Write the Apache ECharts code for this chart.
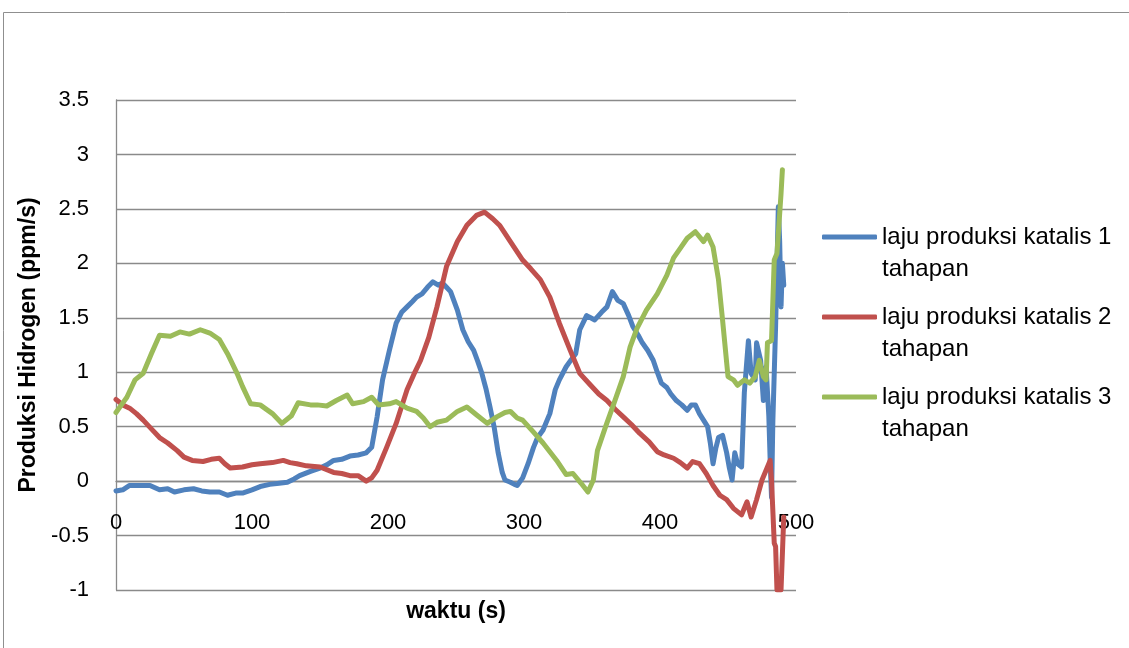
<!DOCTYPE html>
<html>
<head>
<meta charset="utf-8">
<script src="https://cdn.jsdelivr.net/npm/echarts@6/dist/echarts.min.js"></script>
<style>
html,body{margin:0;padding:0;background:#fff;}
#chart{width:1129px;height:648px;}
</style>
</head>
<body>
<div id="chart"></div>
<script>
// ---- data (time in s, production rate in ppm/s) ----
const seriesNames = [
  'laju produksi katalis 1 tahapan',
  'laju produksi katalis 2 tahapan',
  'laju produksi katalis 3 tahapan'
];
const s1Time = [0,5,10,18,25,32,38,43,50,57,63,69,76,82,88,93,100,106,113,120,126,131,135,143,150,155,160,166,172,178,184,188,192,196,201,206,210,214,218,221,225,229,233,237,240,243,246,251,255,259,263,266,269,272,275,278,281,284,286,290,293,295,299,303,307,310,314,319,323,326,331,335,338,341,346,349,352,357,361,365,369,373,377,380,384,387,391,395,398,401,405,408,412,416,420,423,426,429,432,435,437,439,441,443,446,449,451,453,455,457,460,462,465,467,470,471,474,476,478,480,481,482,483,485,487,488,489,490,491];
const s1Rate = [-0.09,-0.08,-0.04,-0.04,-0.04,-0.08,-0.07,-0.1,-0.08,-0.07,-0.09,-0.1,-0.1,-0.13,-0.11,-0.11,-0.08,-0.05,-0.03,-0.02,-0.01,0.02,0.05,0.09,0.12,0.15,0.19,0.2,0.23,0.24,0.26,0.31,0.59,0.93,1.2,1.45,1.55,1.6,1.65,1.69,1.72,1.78,1.83,1.8,1.82,1.78,1.74,1.57,1.39,1.28,1.2,1.1,0.99,0.85,0.68,0.5,0.26,0.08,0.01,-0.01,-0.03,-0.04,0.03,0.16,0.31,0.4,0.47,0.62,0.84,0.93,1.05,1.12,1.17,1.39,1.52,1.5,1.48,1.55,1.6,1.74,1.66,1.63,1.52,1.42,1.34,1.27,1.2,1.11,1.0,0.9,0.86,0.8,0.74,0.7,0.65,0.7,0.7,0.62,0.56,0.5,0.35,0.16,0.3,0.4,0.42,0.26,0.12,0.01,0.26,0.16,0.13,0.81,1.29,0.99,0.93,1.27,1.11,0.74,1.05,0.6,0.19,-0.15,0.56,1.42,2.52,2.2,1.6,2.0,1.8];

const s2Time = [0,5,10,15,20,26,32,38,45,50,56,64,70,76,80,84,93,100,106,115,123,128,133,140,150,160,166,172,178,184,188,192,199,206,214,219,224,230,236,243,251,258,265,271,277,282,290,299,305,312,319,326,334,341,349,355,361,367,373,379,385,392,398,403,410,415,420,424,429,434,439,444,449,454,460,462,464,467,471,475,477,480,481,482,484,485,486,489,491];
const s2Rate = [0.75,0.7,0.67,0.62,0.56,0.48,0.4,0.35,0.28,0.22,0.19,0.18,0.2,0.21,0.16,0.12,0.13,0.15,0.16,0.17,0.19,0.17,0.16,0.14,0.13,0.08,0.07,0.05,0.05,0.0,0.03,0.1,0.31,0.53,0.84,0.98,1.11,1.32,1.6,1.97,2.2,2.35,2.44,2.47,2.41,2.35,2.2,2.03,1.95,1.85,1.69,1.45,1.2,0.99,0.88,0.8,0.74,0.66,0.59,0.52,0.44,0.36,0.27,0.24,0.21,0.17,0.12,0.18,0.16,0.07,-0.04,-0.13,-0.17,-0.25,-0.31,-0.25,-0.19,-0.33,-0.17,0.01,0.07,0.16,0.19,0.01,-0.57,-0.6,-1.0,-1.0,-0.33];

const s3Time = [0,4,8,14,20,26,32,40,47,54,62,69,76,82,89,93,99,106,115,122,129,134,143,148,155,162,170,174,182,188,193,201,206,214,221,226,231,236,243,251,258,265,273,280,286,290,295,299,307,314,319,324,331,336,342,347,351,354,360,366,373,378,383,390,398,405,410,415,420,426,432,435,439,443,446,450,454,457,462,466,470,473,476,478,479,482,484,486,489,490];
const s3Rate = [0.63,0.7,0.77,0.93,0.99,1.17,1.34,1.33,1.37,1.35,1.39,1.36,1.3,1.17,0.99,0.87,0.71,0.7,0.62,0.53,0.6,0.72,0.7,0.7,0.69,0.74,0.79,0.71,0.73,0.77,0.7,0.71,0.73,0.67,0.64,0.58,0.5,0.54,0.56,0.64,0.68,0.61,0.53,0.59,0.63,0.64,0.58,0.56,0.45,0.35,0.27,0.19,0.06,0.07,-0.02,-0.1,0.01,0.28,0.5,0.71,0.96,1.23,1.4,1.57,1.72,1.89,2.05,2.14,2.23,2.29,2.2,2.26,2.15,1.85,1.48,0.96,0.93,0.88,0.93,0.9,0.96,1.11,0.96,0.93,1.27,1.29,2.03,2.09,2.64,2.86];

const seriesColors = ['#4F81BD', '#C0504D', '#9BBB59'];
const xAxisTitle = 'waktu (s)';
const yAxisTitle = 'Produksi Hidrogen (ppm/s)';

function pairs(t, v) { return t.map((x, i) => [x, v[i]]); }
const allTimes = [s1Time, s2Time, s3Time];
const allRates = [s1Rate, s2Rate, s3Rate];

const FONT = 'Liberation Sans';
const chart = echarts.init(document.getElementById('chart'), null, {renderer: 'canvas'});
chart.setOption({
  animation: false,
  backgroundColor: '#ffffff',
  graphic: [{
    type: 'rect', z: -10, silent: true,
    shape: {x: 3.5, y: 12.5, width: 1140, height: 660},
    style: {fill: '#ffffff', stroke: '#8f8f8f', lineWidth: 1}
  }],
  grid: {left: 116, right: 333, top: 100, bottom: 58, containLabel: false, outerBoundsMode: 'none'},
  legend: {
    orient: 'vertical',
    left: 822, top: 189,
    padding: 0,
    itemGap: -16,
    icon: 'roundRect',
    itemWidth: 55, itemHeight: 5,
    formatter: n => '\n' + n.replace(' tahapan', '\ntahapan'),
    textStyle: {fontFamily: FONT, fontSize: 24, color: '#000', lineHeight: 32},
    data: seriesNames
  },
  xAxis: {
    type: 'value', min: 0, max: 500, interval: 100,
    position: 'bottom', offset: -109,
    name: xAxisTitle, nameLocation: 'middle', nameGap: 119,
    nameTextStyle: {fontFamily: FONT, fontSize: 23, fontWeight: 'bold', color: '#000'},
    axisLine: {show: true, onZero: false, lineStyle: {color: '#8a8a8a', width: 1.3}},
    axisTick: {show: false},
    axisLabel: {fontFamily: FONT, fontSize: 22, color: '#000', margin: 31},
    splitLine: {show: false}
  },
  yAxis: {
    type: 'value', min: -1, max: 3.5, interval: 0.5,
    name: yAxisTitle, nameLocation: 'middle', nameGap: 61, nameRotate: 90,
    nameTextStyle: {fontFamily: FONT, fontSize: 23, fontWeight: 'bold', color: '#000'},
    axisLine: {show: true, onZero: false, lineStyle: {color: '#8a8a8a', width: 1.3}},
    axisTick: {show: false},
    axisLabel: {fontFamily: FONT, fontSize: 22, color: '#000', margin: 27},
    splitLine: {show: true, lineStyle: {color: '#8a8a8a', width: 1.3}}
  },
  series: seriesNames.map((name, i) => ({
    name: name,
    type: 'line',
    data: pairs(allTimes[i], allRates[i]),
    showSymbol: false,
    symbol: 'none',
    smooth: false,
    lineStyle: {color: seriesColors[i], width: 5, cap: 'round', join: 'round'},
    itemStyle: {color: seriesColors[i]}
  }))
});
</script>
</body>
</html>
